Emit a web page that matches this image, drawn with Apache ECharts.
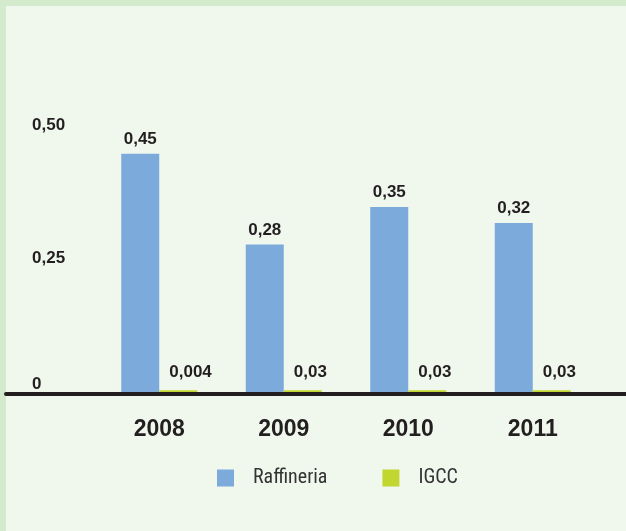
<!DOCTYPE html>
<html>
<head>
<meta charset="utf-8">
<script src="https://cdn.jsdelivr.net/npm/echarts@6/dist/echarts.min.js"></script>
<style>
html,body{margin:0;padding:0;width:626px;height:531px;background:#d4eacc;overflow:hidden;}
#inner{position:absolute;left:6px;top:6px;right:0;bottom:0;background:#f0f8ee;}
#chart{position:absolute;left:0;top:0;width:626px;height:531px;}
</style>
</head>
<body>
<div id="inner"></div>
<div id="chart"></div>
<script>
// Data
const years = ['2008', '2009', '2010', '2011'];
const raffineria = [0.45, 0.28, 0.35, 0.32];
const igccLabels = ['0,004', '0,03', '0,03', '0,03'];   // printed values
const igccDrawn = [0.007, 0.007, 0.007, 0.007];          // bar heights as drawn
const seriesNames = ['Raffineria', 'IGCC'];
const yTicks = { min: 0, max: 0.5, interval: 0.25 };

const dark = '#231f20';
const numFont = '"Liberation Sans", Arial, sans-serif';
const narrowFont = '"Roboto Condensed", "Liberation Sans", sans-serif';

const chart = echarts.init(document.getElementById('chart'), null, { renderer: 'canvas' });
chart.setOption({
  backgroundColor: 'transparent',
  animation: false,
  legend: {
    left: 217,
    top: 468,
    padding: 0,
    itemWidth: 17,
    itemHeight: 17,
    itemGap: 55,
    icon: 'rect',
    textStyle: { fontFamily: narrowFont, fontSize: 20, color: '#333333', padding: [0, 0, 0, 14] },
    data: seriesNames
  },
  grid: [
    { left: 97, right: 31, top: 127, bottom: 137 },
    { left: 6, right: 0, top: 127, bottom: 137 }
  ],
  xAxis: [
    {
      type: 'category',
      gridIndex: 0,
      data: years,
      axisLine: { show: false },
      axisTick: { show: false },
      axisLabel: { margin: 24, fontFamily: numFont, fontWeight: 'bold', fontSize: 23, color: dark }
    },
    {
      type: 'category',
      gridIndex: 1,
      data: [''],
      axisLine: { show: true, lineStyle: { color: dark, width: 4 } },
      axisTick: { show: false },
      axisLabel: { show: false },
      z: 10
    }
  ],
  yAxis: [
    {
      type: 'value',
      gridIndex: 0,
      min: yTicks.min,
      max: yTicks.max,
      interval: yTicks.interval,
      axisLine: { show: false },
      axisTick: { show: false },
      splitLine: { show: false },
      axisLabel: {
        align: 'left',
        margin: 65,
        formatter: function (v) {
          if (v === 0) return '{z|0}';
          return '{a|' + v.toFixed(2).replace('.', ',') + '}';
        },
        rich: {
          a: { fontFamily: numFont, fontWeight: 'bold', fontSize: 17, color: dark, padding: [0, 0, 4, 0] },
          z: { fontFamily: numFont, fontWeight: 'bold', fontSize: 17, color: dark, padding: [0, 0, 19, 0] }
        }
      }
    },
    { type: 'value', gridIndex: 1, min: 0, max: 1, show: false }
  ],
  series: [
    {
      name: seriesNames[0],
      type: 'bar',
      xAxisIndex: 0,
      yAxisIndex: 0,
      barWidth: 38,
      barGap: '0%',
      itemStyle: { color: '#7baadb' },
      data: raffineria,
      label: {
        show: true,
        position: 'top',
        distance: 6,
        fontFamily: numFont,
        fontWeight: 'bold',
        fontSize: 17,
        color: dark,
        formatter: function (p) { return p.value.toFixed(2).replace('.', ','); }
      }
    },
    {
      name: seriesNames[1],
      type: 'bar',
      xAxisIndex: 0,
      yAxisIndex: 0,
      barWidth: 38,
      barGap: '0%',
      itemStyle: { color: '#c1d72f' },
      data: igccDrawn,
      label: {
        show: true,
        position: 'top',
        distance: 9,
        align: 'left',
        offset: [-9, 0],
        fontFamily: numFont,
        fontWeight: 'bold',
        fontSize: 17,
        color: dark,
        formatter: function (p) { return igccLabels[p.dataIndex]; }
      }
    }
  ]
});
</script>
</body>
</html>
